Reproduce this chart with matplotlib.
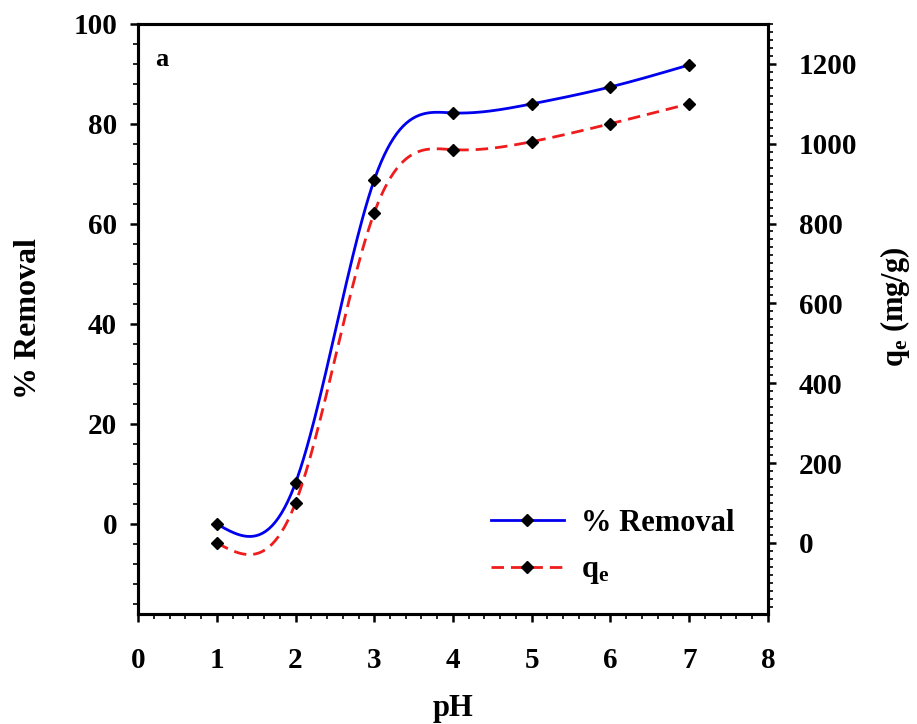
import numpy as np
import matplotlib
matplotlib.use("Agg")
import matplotlib.pyplot as plt
from matplotlib.lines import Line2D
from matplotlib.ticker import MultipleLocator

plt.rcParams["font.family"] = ["Liberation Serif", "DejaVu Serif"]
plt.rcParams["font.weight"] = "bold"
plt.rcParams["mathtext.fontset"] = "custom"
plt.rcParams["mathtext.rm"] = "Liberation Serif:bold"
plt.rcParams["mathtext.it"] = "Liberation Serif:bold"

ph = [1, 2, 3, 4, 5, 6, 7]
removal = [0.0, 8.2, 68.8, 82.2, 84.0, 87.4, 91.8]
qe = [0, 100, 827, 985, 1005, 1050, 1100]


def natural_spline(x, y, n=300):
    # plain natural cubic spline, used only to draw the smooth curve
    x = np.asarray(x, float)
    y = np.asarray(y, float)
    k = len(x)
    h = np.diff(x)
    A = np.zeros((k, k))
    b = np.zeros(k)
    A[0, 0] = A[-1, -1] = 1
    for i in range(1, k - 1):
        A[i, i - 1] = h[i - 1]
        A[i, i] = 2 * (h[i - 1] + h[i])
        A[i, i + 1] = h[i]
        b[i] = 3 * ((y[i + 1] - y[i]) / h[i] - (y[i] - y[i - 1]) / h[i - 1])
    c = np.linalg.solve(A, b)
    xs = np.linspace(x[0], x[-1], n)
    idx = np.clip(np.searchsorted(x, xs) - 1, 0, k - 2)
    dx = xs - x[idx]
    hi = h[idx]
    bi = (y[idx + 1] - y[idx]) / hi - hi * (2 * c[idx] + c[idx + 1]) / 3
    di = (c[idx + 1] - c[idx]) / (3 * hi)
    ys = y[idx] + bi * dx + c[idx] * dx ** 2 + di * dx ** 3
    return xs, ys


fig = plt.figure(figsize=(9.17, 7.24), dpi=100)
ax = fig.add_axes([0.1505, 0.152, 0.687, 0.815])
ax2 = ax.twinx()

blue = "#0000ee"
red = "#ee1c1c"
dash = (0, (4.5, 2.5))

xs, ys = natural_spline(ph, removal)
ax.plot(xs, ys, color=blue, lw=2)
ax.plot(ph, removal, "D", color="black", ms=6.5)

xs, ys = natural_spline(ph, qe)
ax2.plot(xs, ys, color=red, lw=2, ls=dash)
ax2.plot(ph, qe, "D", color="black", ms=6.5)

ax.set_xlim(0, 8)
ax.set_ylim(-18, 100)
ax2.set_ylim(-178, 1300)

ax.xaxis.set_major_locator(MultipleLocator(1))
ax.xaxis.set_minor_locator(MultipleLocator(0.2))
ax.yaxis.set_major_locator(MultipleLocator(20))
ax.yaxis.set_minor_locator(MultipleLocator(4))
ax2.yaxis.set_major_locator(MultipleLocator(200))
ax2.yaxis.set_minor_locator(MultipleLocator(20))

for a in (ax, ax2):
    a.tick_params(which="major", length=6, width=1.8, labelsize=21, direction="out")
    a.tick_params(which="minor", length=3.5, width=1.2, direction="out")
    for s in a.spines.values():
        s.set_linewidth(2.2)
ax.tick_params(axis="x", which="major", pad=18)
ax.tick_params(axis="y", which="major", pad=9)
ax2.tick_params(axis="y", which="major", pad=16)

ax.set_xlabel("pH", fontsize=22, fontweight="bold", labelpad=14)
ax.set_ylabel("% Removal", fontsize=23, fontweight="bold", labelpad=22)
ax2.set_ylabel("q$_\\mathregular{e}$ (mg/g)", fontsize=22, fontweight="bold", labelpad=14)
ax2.yaxis.set_label_coords(1.175, 0.52)

ax.text(0.027, 0.94, "a", transform=ax.transAxes, fontsize=19, fontweight="bold",
        va="center", ha="left")

handles = [
    Line2D([], [], color=blue, lw=2, marker="D", mfc="black", mec="black", ms=6.5),
    Line2D([], [], color=red, lw=2, ls=dash, marker="D", mfc="black",
           mec="black", ms=6.5),
]
ax2.legend(handles, ["% Removal", "q$_\\mathregular{e}$"], loc="lower right",
           bbox_to_anchor=(0.99, 0.0), frameon=False, fontsize=22,
           handlelength=2.4, labelspacing=0.58, handletextpad=0.55)

fig.savefig("out.png", dpi=100)
